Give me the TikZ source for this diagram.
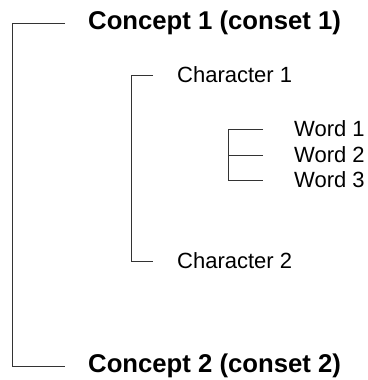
\documentclass[tikz,border=0pt]{standalone}
\usepackage{fontspec}
\setmainfont{Liberation Sans}
\usetikzlibrary{positioning}

\begin{document}
\begin{tikzpicture}[
x=1pt, y=-1pt,
concept/.style={anchor=west,
inner sep=0pt,
font=\fontsize{25.7}{30}\selectfont\bfseries},
item/.style={anchor=west,
inner sep=0pt,
font=\fontsize{22}{26}\selectfont},
bracket/.style={line width=1pt, draw=black!80}
]
\useasboundingbox (0,0) rectangle (367,380);

\node[concept] (con1) at (88,23) {Concept 1 (conset 1)};
\node[concept] (con2) at (88,366) {Concept 2 (conset 2)};
\node[item] (char1) at (177,75) {Character 1};
\node[item] (char2) at (177,261) {Character 2};
\node[item] (word1) at (294,129) {Word 1};
\node[item] (word2) at (294,155) {Word 2};
\node[item] (word3) at (294,180) {Word 3};

\draw[bracket] ([xshift=-23pt]con1.west) -- ++(-53,0) |- ([xshift=-23pt]con2.west);
\draw[bracket] ([xshift=-24pt]char1.west) -- ++(-22,0) |- ([xshift=-24pt]char2.west);
\draw[bracket] ([xshift=-31pt]word1.west) -- ++(-35,0) |- ([xshift=-31pt]word3.west);
\draw[bracket] ([xshift=-31pt]word2.west) -- ++(-35,0);

\end{tikzpicture}
\end{document}
